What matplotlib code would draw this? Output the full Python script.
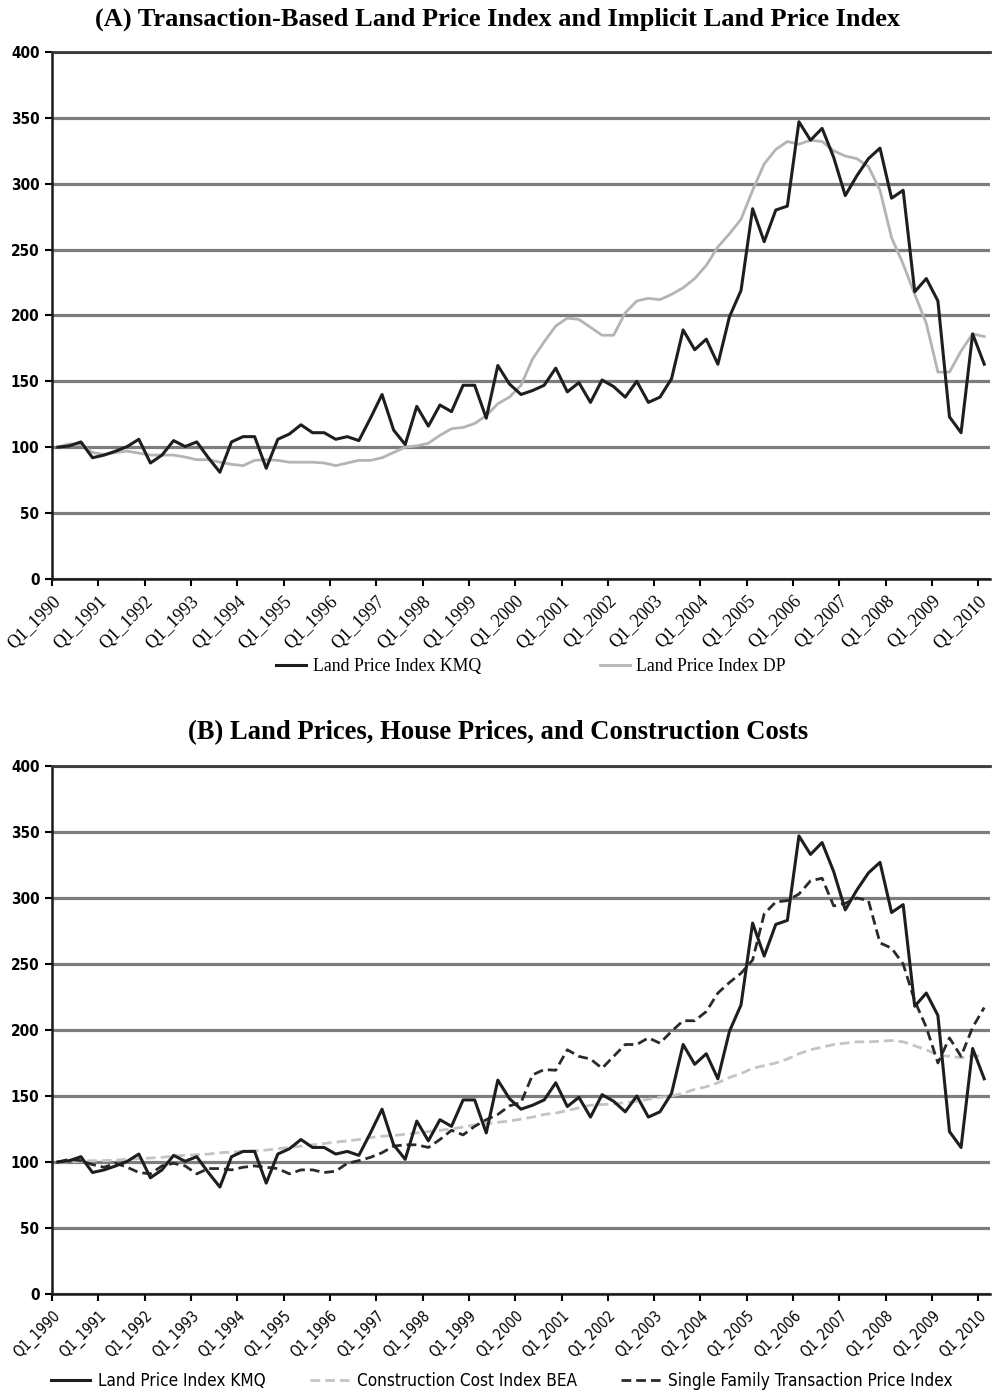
import numpy as np
import matplotlib
matplotlib.use("Agg")
import matplotlib.pyplot as plt
from matplotlib.font_manager import FontProperties

# quarterly series, Q1 1990 .. Q1 2010
years = list(range(1990, 2011))
kmq = [100, 101, 104, 92, 94, 97, 100.5, 106, 88, 94, 105, 100.5, 104, 92, 81, 104,
       108, 108, 84, 106, 110, 117, 111, 111, 106, 108, 105, 122, 140, 113, 102, 131,
       116, 132, 127, 147, 147, 122, 162, 148, 140, 143, 147, 160, 142, 149, 134, 151,
       146, 138, 150, 134, 138, 152, 189, 174, 182, 163, 199, 219, 281, 256, 280, 283,
       347, 333, 342, 320, 291, 306, 319, 327, 289, 295, 218, 228, 211, 123, 111, 186,
       163]
dp = [100, 102.5, 102, 96, 94.5, 96, 97, 95.5, 94, 94, 94, 92.5, 90.5, 90.5, 88.6, 87,
      86, 90, 90.5, 90, 88.6, 88.6, 88.6, 88, 86, 88, 90, 90, 92, 96, 100, 101,
      103, 109, 114, 115, 118, 124, 133, 138, 147, 167, 180, 192, 198, 197, 191, 185,
      185, 202, 211, 213, 212, 216, 221, 228, 238, 252, 262, 273, 295, 315, 326, 332,
      330, 333, 332, 325, 321, 319, 313, 295, 259, 239, 216, 194, 157, 157, 173, 186,
      184]
bea = [100, 100, 100.5, 101, 101, 101.5, 102, 102.5, 103, 103.5, 104.5, 105, 105.5, 106, 107, 107.5,
       108, 108.5, 109, 110, 111, 112, 113, 114, 115, 116, 117, 118.5, 119.5, 120, 121, 122,
       123, 124, 125, 126.5, 128, 129, 130, 131, 132.5, 134, 136, 137, 139, 141, 143, 143.5,
       144, 145, 146, 147.5, 149, 150, 152, 155, 157, 160, 164, 167, 171, 173, 175, 178,
       182, 185, 187, 189, 190, 191, 191, 191.5, 192, 191, 188, 185, 181, 180, 179, 180,
       181]
sf = [100, 102, 101, 98, 96, 99, 96, 92, 91, 97, 99, 97, 91, 95, 95, 94,
      96, 97, 96, 95, 91, 94, 94, 92, 93, 99, 101, 103.5, 107, 112, 113, 113,
      111, 117, 124, 120.5, 127, 132, 136, 142.5, 145, 166, 170, 169.5, 185, 180, 178, 171,
      180, 189, 189, 194, 190, 199, 207, 207, 214, 228, 236, 243, 253, 288, 297, 298,
      303, 313, 315, 294, 296, 300, 298, 266, 262, 250, 222, 202, 175, 194, 180, 202,
      217]

# points sit in the middle of each quarter, ticks on the quarter boundaries
x = np.arange(len(kmq)) + 0.5
tick_pos = np.arange(0, len(kmq), 4)
tick_labels = [f"Q1_{y}" for y in years]

serif = ['Liberation Serif', 'DejaVu Serif']
sans = ['DejaVu Sans']

fig = plt.figure(figsize=(9.92, 13.93), dpi=100)
axA = fig.add_axes([0.0524, 0.5844, 0.9456, 0.3783])
axB = fig.add_axes([0.0524, 0.0711, 0.9456, 0.3790])


def style_axis(ax, xfont):
    ax.set_xlim(0, len(kmq))
    ax.set_ylim(0, 400)
    ax.set_yticks(range(0, 401, 50))
    ax.yaxis.grid(True, color='#7d7d7d', linewidth=2.3, zorder=0)
    ax.set_axisbelow(True)
    ax.spines['right'].set_visible(False)
    ax.spines['top'].set_color('#3a3a3a')
    ax.spines['top'].set_linewidth(2.0)
    for s in ['left', 'bottom']:
        ax.spines[s].set_linewidth(1.8)
        ax.spines[s].set_color('#1a1a1a')
    ax.set_xticks(tick_pos)
    ax.set_xticklabels(tick_labels, rotation=45, ha='right', va='top',
                       rotation_mode='anchor', fontproperties=xfont)
    ax.tick_params(axis='x', length=5, width=1.5, direction='out', pad=5)
    ax.tick_params(axis='y', length=5, width=1.5, pad=4)
    for t in ax.get_yticklabels():
        t.set_family(sans)
        t.set_stretch('condensed')
        t.set_fontsize(11)
        t.set_fontweight('bold')


fp_serif_tick = FontProperties(family=serif, size=13)
fp_sans_tick = FontProperties(family=sans, size=10.5, stretch='condensed')

# (A)
style_axis(axA, fp_serif_tick)
axA.plot(x, kmq, color='#1e1e1e', linewidth=2.2, label='Land Price Index KMQ', zorder=3)
axA.plot(x, dp, color='#b4b4b4', linewidth=2.0, label='Land Price Index DP', zorder=2)
axA.set_title('(A) Transaction-Based Land Price Index and Implicit Land Price Index',
              family=serif, fontsize=19, fontweight='bold', pad=19, x=0.4755)
axA.legend(loc='center', bbox_to_anchor=(0.5107, -0.167), ncol=2, frameon=False,
           prop={'family': serif, 'size': 12.8}, handlelength=1.7, handletextpad=0.35,
           columnspacing=6.7)

# (B)
style_axis(axB, fp_sans_tick)
axB.plot(x, kmq, color='#1e1e1e', linewidth=2.2, label='Land Price Index KMQ', zorder=4)
axB.plot(x, bea, color='#c4c4c4', linewidth=2.0, linestyle=(0, (3.5, 1.8)),
         label='Construction Cost Index BEA', zorder=2)
axB.plot(x, sf, color='#2a2a2a', linewidth=2.0, linestyle=(0, (3.5, 1.8)),
         label='Single Family Transaction Price Index', zorder=3)
axB.set_title('(B) Land Prices, House Prices, and Construction Costs',
              family=serif, fontsize=19.2, fontweight='bold', pad=19, x=0.4755)
axB.legend(loc='center', bbox_to_anchor=(0.4797, -0.165), ncol=3, frameon=False,
           prop={'family': sans, 'size': 12.3, 'stretch': 'condensed'},
           handlelength=2.3, handletextpad=0.45, columnspacing=2.6)

plt.savefig('out.png', dpi=100)
